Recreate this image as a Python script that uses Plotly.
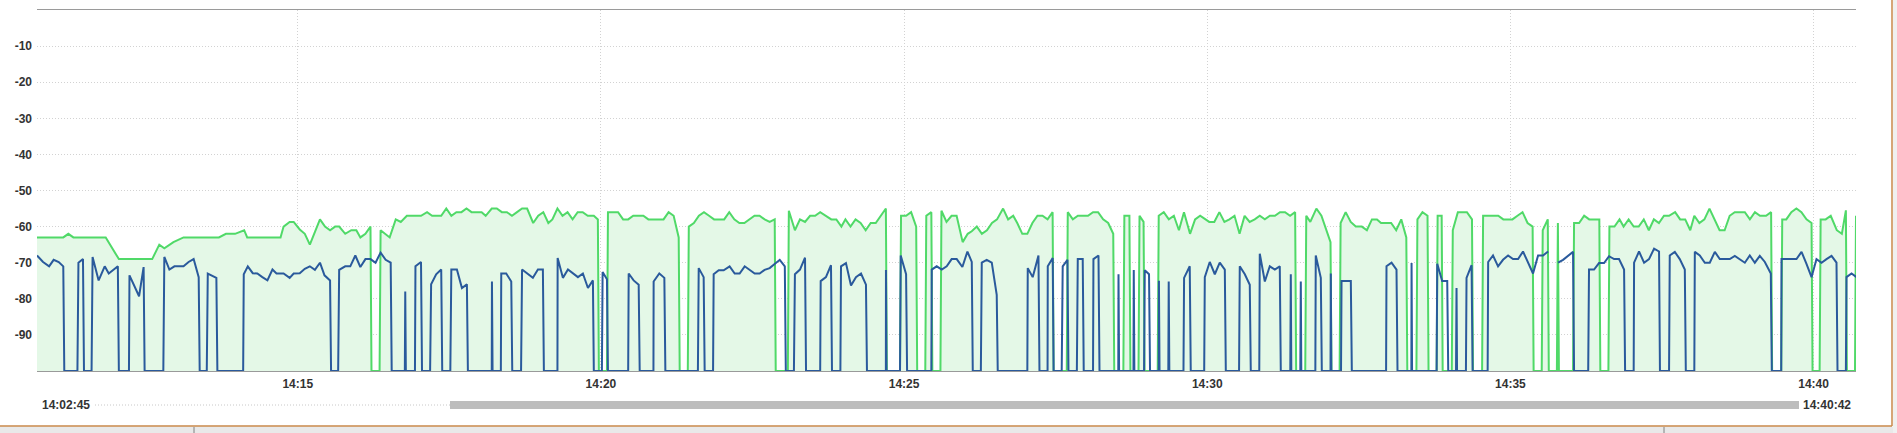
import pandas as pd
import plotly.graph_objects as go

# ---- data: seconds after 14:10:42 and signal level (dBm); -100 = no signal ----
start = pd.Timestamp("2024-01-01 14:10:42")

green_sec = [0, 26, 31, 36, 68, 81, 114, 121, 126, 135, 145, 180, 187, 196, 205, 208, 241, 244, 250, 254, 260, 265, 270, 275, 280, 285, 290, 295, 299, 305, 311, 316, 320, 325, 330, 331, 339, 340, 349, 355, 360, 366,
             380, 386, 391, 400, 405, 410, 415, 420, 425, 430, 440, 444, 450, 455, 460, 465, 470, 475, 480, 485, 491, 496, 501, 506, 510, 515, 520, 525, 530, 535, 540, 545, 551, 555, 556, 564, 565, 575, 580, 585, 590, 600, 605, 620, 625, 630, 635, 636, 644, 645, 650, 655, 660, 665, 670, 680, 685, 690, 695, 700, 705, 710, 715, 720,
             725, 730, 731, 743, 744, 750, 755, 760, 765, 770, 775, 781, 786, 791, 796, 800, 805, 810, 815, 820, 825, 830, 835, 840, 841, 854, 855, 860, 865, 870, 871, 879, 880, 885, 886, 894, 895, 900, 905, 910, 916, 921, 925, 930, 935, 940, 945, 950, 956, 961, 966, 970, 975, 980, 985, 990, 995, 1000, 1005, 1006, 1019, 1020, 1025, 1030, 1040, 1045, 1050, 1055, 1060, 1065, 1066, 1075, 1076, 1081, 1082,
             1090, 1091, 1095, 1096, 1109, 1110, 1115, 1120, 1125, 1130, 1135, 1141, 1146, 1151, 1156, 1160, 1165, 1170, 1175, 1180, 1185, 1190, 1195, 1200, 1205, 1210, 1215, 1220, 1225, 1230, 1235, 1240, 1245, 1246, 1255, 1256, 1260, 1266, 1271, 1276, 1280, 1281, 1289, 1290, 1295, 1300, 1305, 1311, 1316, 1321, 1326, 1330, 1340, 1345, 1350, 1355, 1356, 1365, 1366, 1371, 1376, 1377, 1385, 1386, 1390, 1391, 1400, 1401, 1406, 1415, 1420, 1421, 1430, 1431,
             1446, 1451, 1460, 1465, 1470, 1475, 1480, 1481, 1489, 1490, 1495, 1496, 1504, 1505, 1506, 1520, 1521, 1526, 1531, 1536, 1546, 1547, 1555, 1556, 1561, 1566, 1570, 1575, 1580, 1585, 1590, 1595, 1600, 1605, 1610, 1615, 1621, 1626, 1631, 1636, 1640, 1645, 1650, 1655, 1660, 1665, 1670, 1675, 1680, 1690, 1695, 1700, 1705, 1711, 1716, 1717, 1726, 1727, 1731, 1736, 1741, 1746, 1751, 1756, 1757, 1764, 1765, 1770, 1775, 1781, 1786, 1790, 1791, 1799, 1800]
green_val = [-63, -63, -62, -63, -63, -69, -69, -65, -66, -64.3, -63, -63, -62, -62, -61, -63, -63, -60, -58.7, -58.7, -60.8, -62, -65, -61.5, -58, -60, -61, -60, -60, -62, -61, -61, -63, -62, -60, -100, -100, -61, -63, -58, -58.7, -57,
             -57, -56, -57, -57, -55, -57, -56, -56, -55, -56, -56, -57, -55, -55, -56, -56, -57, -56, -55, -55, -59, -57, -56, -59, -58, -55, -57, -56, -58, -56, -56, -57, -57, -58, -100, -100, -56, -56, -58, -58, -57, -57, -58, -58, -56, -57, -63, -100, -100, -60, -59, -57, -56, -57, -58, -58, -56, -58, -59, -59, -58, -57, -57, -58,
             -58.7, -58, -100, -100, -55.6, -61, -58, -58.7, -57, -57, -56, -57, -58, -58, -60, -58, -60, -58, -59, -61, -59, -59, -57, -55, -100, -100, -57, -57, -56, -60, -100, -100, -57, -56, -100, -100, -55.6, -58.7, -57, -57, -64.3, -62, -61.3, -60, -62, -61, -59, -58, -55, -58, -57, -59, -62, -62, -59, -57, -57, -58, -56, -100, -100, -56, -58, -57, -57, -56, -56, -58, -59, -62, -100, -100, -57, -57, -100,
             -100, -57, -58.7, -100, -100, -57, -56, -58, -57, -61, -56, -62, -58, -57, -58, -58.7, -58.7, -56, -58.7, -58, -57, -62, -57, -58.7, -58, -57, -58, -57, -57, -56, -56, -57, -56, -100, -100, -57, -58.7, -55, -57, -61, -64.3, -100, -100, -59, -56, -58.7, -60, -60, -61, -58, -58, -59, -59, -61, -58, -63, -100, -100, -58, -56, -57, -100, -100, -57, -57, -100, -100, -61, -56, -56, -58, -100, -100, -57,
             -57, -58, -58, -57, -56, -59, -60, -100, -100, -61, -58, -100, -100, -59, -100, -100, -59, -59, -57, -58, -58, -100, -100, -60, -60, -58, -60, -58, -60, -60, -58, -61, -58, -59, -57, -57, -56, -58, -58, -61, -57, -59, -58, -55, -58, -61, -61, -57, -56, -56, -58, -56, -57, -57, -56, -100, -100, -58, -58, -56, -55, -56, -58, -59, -100, -100, -58, -58, -57, -61, -62, -55.5, -100, -100, -57]

blue_sec = [0, 6, 12, 16.5, 21.5, 26, 27, 40, 41, 45.5, 46.5, 54, 55, 61, 67, 71, 76, 80, 81, 91, 91.5, 101, 105.5, 106.5, 125, 126, 131, 136, 145, 150, 155, 160, 161, 168, 169, 177.5, 178.5, 204, 204.6, 208.6, 213.5, 218, 223, 228, 233, 237, 244, 250, 254, 260, 265, 270, 275, 280, 284.5, 290, 291, 298, 299, 305, 310, 315, 320, 325, 330, 335, 340, 345, 350, 351, 364, 364.4, 365,
            374, 374.5, 380, 381, 389, 390, 395, 400, 401, 409, 410, 415.5, 420.5, 425.4, 426.4, 450, 450.2, 450.8, 459, 459.4, 464.3, 469.3, 470.3, 479, 480, 490.7, 495.7, 500.6, 501.6, 515, 515.2, 520.4, 525.4, 535.3, 540.2, 545.2, 550.1, 551, 559, 559.7, 564, 565, 585, 585.5, 590.4, 595.4, 596.4, 610, 610.2, 615.8, 620.8, 621.8, 654, 654.8, 659.7, 660.7, 669, 669.6, 674.6, 679.5, 685.4, 690.4, 695.3, 700.3, 705.2, 710.2, 715.1,
            720, 725, 730, 735, 740, 741, 749, 750, 755, 760, 761, 775, 775.5, 780.7, 785.7, 786.7, 795, 795.6, 800.5, 805.5, 810.4, 815.4, 820.3, 821.3, 840, 840.1, 840.6, 854, 854.7, 860, 861, 885, 885.4, 890.3, 895.3, 900.2, 905.1, 910.1, 915.7, 920.7, 925, 926, 934, 934.9, 939.8, 944.8, 949.7, 950.7, 980, 980.4, 985.3, 991, 992, 1000, 1000.2, 1005.1, 1006, 1014, 1015, 1019.7, 1020.7, 1029, 1029.9, 1034.8, 1035.8, 1045, 1045.4, 1050.4, 1051.4, 1070, 1070.2, 1070.8, 1085, 1085.3, 1085.9,
            1095.5, 1096.2, 1100.4, 1101.4, 1110, 1110.2, 1110.8, 1119.5, 1119.9, 1120.5, 1134.5, 1135.1, 1140.7, 1141.7, 1155, 1155.6, 1160.5, 1165.5, 1170.4, 1175.4, 1176.4, 1189.5, 1190.2, 1195.2, 1200.1, 1201.1, 1209.5, 1210, 1215, 1219.9, 1224.9, 1229.8, 1230.8, 1240.2, 1240.7, 1241.2, 1250.1, 1250.6, 1251.1, 1265, 1265.4, 1270.4, 1271.4, 1280, 1280.3, 1280.8, 1290.4, 1290.9, 1300.1, 1301.1, 1335, 1335.4, 1340.4, 1345.3, 1346.3, 1360, 1360.2, 1360.7, 1385, 1385.6, 1390.5, 1395.5, 1396.5, 1404.2, 1404.7, 1405.2, 1414, 1414.6, 1419.6, 1420.6, 1435.5, 1436,
            1440.8, 1445.8, 1450.7, 1455.7, 1460.6, 1465.6, 1470.5, 1475.5, 1480.4, 1485.4, 1490.3, 1495.3, 1500, 1505.2, 1510.1, 1520, 1521, 1535, 1535.8, 1540.8, 1545.7, 1550.7, 1555.6, 1560.6, 1565.5, 1570.5, 1571.5, 1580, 1580.4, 1585.3, 1590.3, 1595.2, 1600.2, 1605.1, 1606, 1615, 1615.7, 1620.7, 1625.6, 1630.6, 1631.6, 1640, 1640.5, 1645.4, 1650.4, 1655.3, 1660.3, 1665.2, 1675.1, 1680.1, 1685, 1690, 1694.9, 1699.9, 1704.8, 1709.8, 1715.7, 1716.7, 1726, 1726.3, 1741.1, 1746.1, 1751, 1756, 1760.9, 1765.9, 1770.8, 1775.8, 1780.7, 1781.7, 1790, 1790.6, 1795.6, 1800.5]
blue_val = [-68, -69.8, -71, -69.2, -69.8, -71, -100, -100, -70, -69, -100, -100, -68.4, -74.9, -71, -73, -71.9, -71, -100, -100, -73.5, -79.3, -71.2, -100, -100, -68.4, -71.9, -71, -71, -69.8, -69, -74, -100, -100, -73, -74.2, -100, -100, -73.2, -71, -72.9, -73, -74, -74.9, -71.9, -73, -73, -74.2, -73, -72.9, -71.7, -71, -72, -70, -73.5, -74.9, -100, -100, -72, -71, -71, -68, -71.2, -69, -69, -70, -67.2, -69.2, -70, -100, -100, -78, -100,
            -100, -71, -69.8, -100, -100, -76, -73.2, -71.9, -100, -100, -71.9, -71.9, -77, -76, -100, -100, -75.2, -100, -100, -73, -73, -75.2, -100, -100, -71.9, -74.2, -71.9, -71.9, -100, -100, -68.7, -74.2, -71.9, -74, -73, -77, -74.9, -100, -100, -72.6, -74.6, -100, -100, -73, -74.9, -76.1, -100, -100, -75.2, -73, -74.2, -100, -100, -71.5, -74, -100, -100, -73.2, -72.1, -72.1, -71, -73, -73, -71, -72.1, -73, -73,
            -72, -71.5, -70.3, -69.2, -71, -100, -100, -73.2, -71.9, -68.6, -100, -100, -75.1, -74, -70.7, -100, -100, -71, -70.1, -76.3, -74, -73, -76.1, -100, -100, -72, -100, -100, -68, -73.2, -100, -100, -71.9, -71, -71.9, -71, -69, -69, -71.2, -66.9, -69.8, -100, -100, -70, -69.2, -70, -78.9, -100, -100, -71.5, -74, -68, -100, -100, -71, -68.7, -100, -100, -71, -69.2, -100, -100, -69, -69, -100, -100, -69, -68, -100, -100, -73.2, -100, -100, -72, -100,
            -100, -72.1, -73.2, -100, -100, -75, -100, -100, -75.2, -100, -100, -74.2, -71, -100, -100, -74, -69.8, -73.2, -70, -71.9, -100, -100, -71, -73.2, -76.1, -100, -100, -67.5, -75.2, -71, -71.9, -71, -100, -100, -73.2, -100, -100, -75.2, -100, -100, -68, -74.2, -100, -100, -73, -100, -100, -75.1, -75.1, -100, -100, -71, -70, -71.9, -100, -100, -70.1, -100, -100, -70.3, -75.1, -75.1, -100, -100, -77, -100, -100, -74.2, -70.7, -100, -100, -69.8,
            -68, -71, -69.2, -68, -69, -69, -66.9, -69.8, -73, -68, -68, -66.9, None, -70, -69.2, -67, -100, -100, -71.9, -71.9, -70.1, -70.1, -68.2, -69, -69, -71.9, -100, -100, -70, -66.9, -70, -69, -66.1, -66.9, -100, -100, -68, -67, -69, -71.9, -100, -100, -67, -68, -70, -70, -67, -69, -69, -68.1, -69, -70, -68, -70, -68.1, -69.8, -73, -100, -100, -69, -69, -67, -70.3, -74, -69, -70, -69, -68.1, -70, -100, -100, -74, -73, -74]

y_ticks = [-90, -80, -70, -60, -50, -40, -30, -20, -10]
x_ticks = ["14:15", "14:20", "14:25", "14:30", "14:35", "14:40"]
view_start, view_end = "14:10:42", "14:40:42"
nav_start, nav_end = "14:02:45", "14:40:42"

day = "2024-01-01 "
gx = start + pd.to_timedelta(green_sec, unit="s")
bx = start + pd.to_timedelta(blue_sec, unit="s")

W, H = 1897, 433
L, R, T, B = 37, 1856, 10, 371


def px(x):
    return (x - L) / (R - L)


def py(y):
    return (B - y) / (B - T)


fig = go.Figure()
fig.add_trace(go.Scatter(x=[day + view_start, day + view_end], y=[-100, -100], mode="lines",
                         line=dict(width=0, color="rgba(0,0,0,0)"), hoverinfo="skip", showlegend=False))
fig.add_trace(go.Scatter(x=gx, y=green_val, mode="lines", fill="tonexty", fillcolor="#e4f8e7",
                         line=dict(color="#50d968", width=2), showlegend=False))
fig.add_trace(go.Scatter(x=bx, y=blue_val, mode="lines",
                         line=dict(color="#2a5a9c", width=2), showlegend=False))

tickfont = dict(family="Liberation Sans, Arial", size=12, color="#333333", weight="bold")

fig.update_layout(
    width=W, height=H,
    margin=dict(l=L, r=W - R, t=T, b=H - B),
    paper_bgcolor="white", plot_bgcolor="white",
    showlegend=False,
    xaxis=dict(type="date", range=[day + view_start, day + view_end],
               tickvals=[day + t for t in x_ticks], ticktext=x_ticks,
               showgrid=True, gridcolor="#d2d2d2", griddash="1px,2px", gridwidth=1,
               showline=True, mirror=True, linecolor="#9a9a9a", linewidth=1,
               ticks="", tickfont=tickfont, zeroline=False, ticklabelstandoff=2),
    yaxis=dict(range=[-100, 0], tickvals=y_ticks, ticktext=[str(v) for v in y_ticks],
               showgrid=True, gridcolor="#d2d2d2", griddash="1px,2px", gridwidth=1,
               zeroline=False, showline=False, ticks="", tickfont=tickfont,
               ticklabelstandoff=4),
)

# navigator / scrollbar under the chart
nav_y = 405
fig.add_shape(type="line", xref="paper", yref="paper", x0=px(95), x1=px(450), y0=py(nav_y), y1=py(nav_y),
              line=dict(color="#c8c8c8", width=1, dash="1px,2px"))
fig.add_shape(type="rect", xref="paper", yref="paper", x0=px(450), x1=px(1799), y0=py(401), y1=py(409),
              line=dict(width=0), fillcolor="#bdbdbd")
fig.add_annotation(xref="paper", yref="paper", x=px(40), y=py(nav_y), text=nav_start, showarrow=False,
                   xanchor="left", yanchor="middle", font=tickfont)
fig.add_annotation(xref="paper", yref="paper", x=px(1853), y=py(nav_y), text=nav_end, showarrow=False,
                   xanchor="right", yanchor="middle", font=tickfont)

# window frame
fig.add_shape(type="rect", xref="paper", yref="paper", x0=px(-5), x1=px(1902), y0=py(426.5), y1=py(440),
              line=dict(width=0), fillcolor="#e9e9e9", layer="above")
fig.add_shape(type="line", xref="paper", yref="paper", x0=px(0), x1=px(1892), y0=py(426), y1=py(426),
              line=dict(color="#c9884a", width=1.5))
fig.add_shape(type="line", xref="paper", yref="paper", x0=px(1892), x1=px(1892), y0=py(-5), y1=py(426),
              line=dict(color="#c9884a", width=1.5))
fig.add_shape(type="rect", xref="paper", yref="paper", x0=px(1893), x1=px(1902), y0=py(-5), y1=py(440),
              line=dict(width=0), fillcolor="#f0f0f0")
for vx in (194, 1664):
    fig.add_shape(type="line", xref="paper", yref="paper", x0=px(vx), x1=px(vx), y0=py(427), y1=py(440),
                  line=dict(color="#808080", width=1))

fig.write_html("out.html", config={"displayModeBar": False},
               post_script="document.body.style.margin='0';document.body.style.overflow='hidden';")
